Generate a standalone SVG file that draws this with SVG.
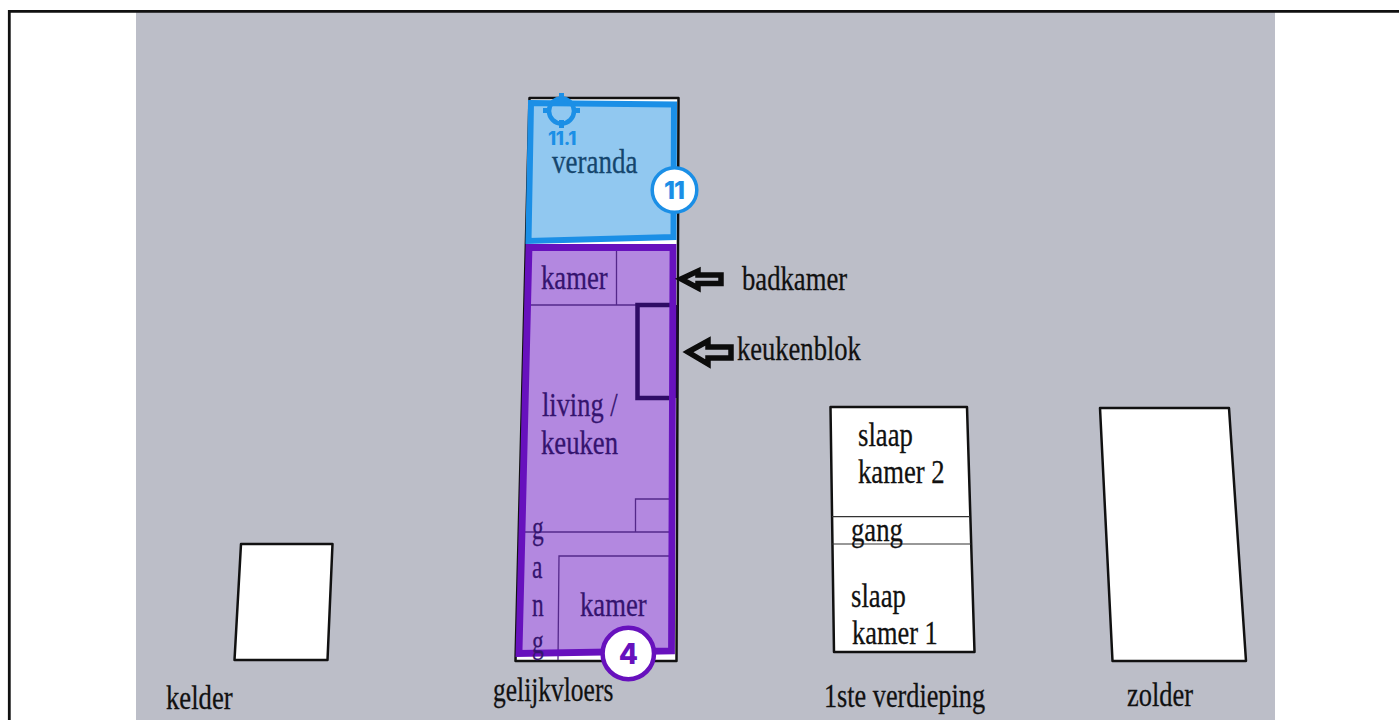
<svg xmlns="http://www.w3.org/2000/svg" width="1399" height="720" viewBox="0 0 1399 720">
<style>
.t{font-family:"Liberation Serif","DejaVu Serif",serif;font-size:30px;fill:#111;stroke:#111;stroke-width:.25}
.p{fill:#35146f;stroke:#35146f}
.b{fill:#15466e;stroke:#15466e}
.plan{fill:#fff;stroke:#111;stroke-width:2.5;stroke-linejoin:round}
.thin{fill:none;stroke:#54288a;stroke-width:1.3}
.thb{fill:none;stroke:#333;stroke-width:1.2}
.arrow{fill:none;stroke:#0c0c0c;stroke-width:5.500;stroke-linejoin:miter}
.badge{font-family:"Inter","Noto Sans",sans-serif;font-weight:800;text-anchor:middle}
</style>
<rect width="1399" height="720" fill="#fff"/>
<rect x="136" y="12" width="1139" height="708" fill="#bcbec8"/>
<path d="M9.300 720V11.300H1399" fill="none" stroke="#111" stroke-width="2.800"/>
<g id="kelder">
<path class="plan" d="M241 544H332.500L327.500 660H234.500Z"/>
<text class="t" transform="translate(166 709) scale(.89 1.1)">kelder</text>
</g>
<g id="gelijkvloers-plan">
<path class="plan" d="M529.500 98H678.500L676.500 661H515.500Z"/>
<text class="t" transform="translate(493 701) scale(.85 1.1)">gelijkvloers</text>
</g>
<g id="zone-11">
<path d="M531 103L674 104.500L673.500 237L528.500 241Z" fill="#91c8f0" stroke="#1b8fe6" stroke-width="6"/>
<text class="t b" transform="translate(552 173) scale(.9 1.1)">veranda</text>
<g fill="none" stroke="#1b8fe6">
<circle cx="561.500" cy="111" r="12.500" stroke-width="4.500"/>
<path d="M561.500 93V101M561.500 120V128M543 110.500H551M572 110.500H580" stroke-width="5"/>
</g>
<text class="badge" x="562" y="145" font-size="18.500" fill="#1b8fe6" letter-spacing="-.3">11.1</text>
</g>
<g id="zone-4">
<path d="M529 247.500H673L671.500 651L519 653.500Z" fill="#b388e0"/>
<path class="thin" d="M616.500 250V305M528 305H637M635.500 532V499H672M522 532H672M558 660L559 556H672"/>
<path d="M672 305H637.500V398H672" fill="none" stroke="#2f0c66" stroke-width="4.500"/>
<path d="M676.500 305V398" fill="none" stroke="#1a0a2e" stroke-width="3"/>
<path d="M529 247.500H673L671.500 651L519 653.500Z" fill="none" stroke="#6711bd" stroke-width="6.800"/>
<text class="t p" transform="translate(541 289) scale(.89 1.1)">kamer</text>
<text class="t p" transform="translate(542 416) scale(.88 1.1)">living /</text>
<text class="t p" transform="translate(541 454) scale(.89 1.1)">keuken</text>
<text class="t p" transform="translate(580 616) scale(.89 1.1)">kamer</text>
<text class="t p" transform="translate(532 539) scale(.78 1.1)">g</text>
<text class="t p" transform="translate(532 578) scale(.78 1.1)">a</text>
<text class="t p" transform="translate(532 616) scale(.78 1.1)">n</text>
<text class="t p" transform="translate(532 653) scale(.78 1.1)">g</text>
</g>
<g id="eerste-verdieping">
<path class="plan" d="M830.500 407H967L974.500 652H834Z"/>
<path class="thb" d="M832 516.700H970M832 544H971"/>
<text class="t" transform="translate(858 446) scale(.89 1.1)">slaap</text>
<text class="t" transform="translate(858 483) scale(.89 1.1)">kamer 2</text>
<text class="t" transform="translate(851 541) scale(.89 1.1)">gang</text>
<text class="t" transform="translate(851 607) scale(.89 1.1)">slaap</text>
<text class="t" transform="translate(852 644) scale(.88 1.1)">kamer 1</text>
<text class="t" transform="translate(824 707) scale(.875 1.1)">1ste verdieping</text>
</g>
<g id="zolder">
<path class="plan" d="M1100 408H1229L1246 661H1112.500Z"/>
<text class="t" transform="translate(1127 706) scale(.88 1.1)">zolder</text>
</g>
<g id="connectors">
<path class="arrow" d="M681 279L698 271V275H721V283.500H698V288Z"/>
<path class="arrow" d="M688 352L708 341V347H731V358H708V364Z"/>
</g>
<text class="t" transform="translate(742 290) scale(.89 1.1)">badkamer</text>
<text class="t" transform="translate(737 360) scale(.885 1.1)">keukenblok</text>
<g id="badge-11">
<circle cx="674.500" cy="190" r="22.300" fill="#fff" stroke="#1b8fe6" stroke-width="3.500"/>
<text class="badge" x="674" y="199" font-size="25" fill="#1b8fe6" letter-spacing="-1">11</text>
</g>
<g id="badge-4">
<circle cx="628.300" cy="653.500" r="25.700" fill="#fff" stroke="#6711bd" stroke-width="4.500"/>
<text class="badge" x="628.300" y="664" font-size="28" fill="#6711bd">4</text>
</g>
</svg>
